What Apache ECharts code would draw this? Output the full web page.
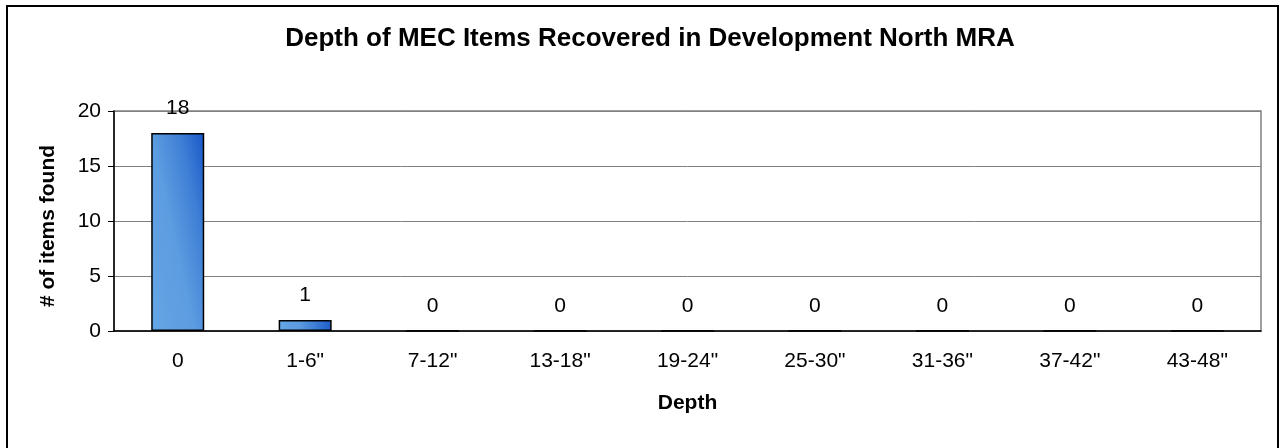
<!DOCTYPE html>
<html>
<head>
<meta charset="utf-8">
<style>
  html, body { margin: 0; padding: 0; background: #ffffff; }
  #chart { width: 1279px; height: 448px; }
</style>
<script src="https://cdn.jsdelivr.net/npm/echarts@6/dist/echarts.min.js"></script>
</head>
<body>
<div id="chart"></div>
<script>
const categories = ['0', '1-6"', '7-12"', '13-18"', '19-24"', '25-30"', '31-36"', '37-42"', '43-48"'];
const itemsFound = [18, 1, 0, 0, 0, 0, 0, 0, 0];
const chartTitle = 'Depth of MEC Items Recovered in Development North MRA';
const xAxisName = 'Depth';
const yAxisName = '# of items found';

const FONT = '"Liberation Sans", Arial, Helvetica, sans-serif';
const chart = echarts.init(document.getElementById('chart'), null, { renderer: 'canvas' });

// Fill: light on the left/bottom, darker toward the top-right corner of each bar.
function barFill(v) {
  if (v >= 5) {
    return new echarts.graphic.LinearGradient(0, 1, 1.734, 0.898, [
      { offset: 0, color: '#65a6e5' },
      { offset: 0.45, color: '#5c9ce0' },
      { offset: 0.75, color: '#3e7ed5' },
      { offset: 1, color: '#1757c8' }
    ]);
  }
  return new echarts.graphic.LinearGradient(0, 0, 1, 0, [
    { offset: 0, color: '#65a6e5' },
    { offset: 0.4, color: '#5a9adf' },
    { offset: 1, color: '#1d5dca' }
  ]);
}

chart.setOption({
  backgroundColor: '#ffffff',
  animation: false,
  title: {
    text: chartTitle,
    left: 645,
    textAlign: 'center',
    top: 21,
    textStyle: { fontFamily: FONT, fontSize: 26, fontWeight: 'bold', color: '#000000' }
  },
  graphic: [{
    type: 'rect',
    shape: { x: 7, y: 6, width: 1271, height: 460 },
    style: { fill: 'none', stroke: '#000000', lineWidth: 2 },
    silent: true,
    z: 100
  }],
  grid: {
    left: 114, top: 111, width: 1147, height: 220,
    show: true, borderColor: '#808080', borderWidth: 1.5, backgroundColor: '#ffffff'
  },
  xAxis: {
    type: 'category',
    data: categories,
    name: xAxisName,
    nameLocation: 'middle',
    nameGap: 62,
    nameTextStyle: { fontFamily: FONT, fontSize: 21, fontWeight: 'bold', color: '#000000' },
    axisLine: { lineStyle: { color: '#000000', width: 1.5 } },
    axisTick: { show: false },
    axisLabel: { fontFamily: FONT, fontSize: 21, color: '#000000', margin: 20 }
  },
  yAxis: {
    type: 'value',
    min: 0, max: 20, interval: 5,
    name: yAxisName,
    nameLocation: 'middle',
    nameGap: 55,
    nameRotate: 90,
    nameTextStyle: { fontFamily: FONT, fontSize: 21, fontWeight: 'bold', color: '#000000', padding: [0, 10, 0, 0] },
    axisLine: { show: true, lineStyle: { color: '#000000', width: 1.5 } },
    axisTick: { show: true, length: 6, lineStyle: { color: '#000000', width: 1 } },
    axisLabel: { fontFamily: FONT, fontSize: 21, color: '#000000', margin: 13 },
    splitLine: { show: true, lineStyle: { color: '#808080', width: 1 } }
  },
  series: [{
    type: 'bar',
    data: itemsFound.map(v => ({ value: v, itemStyle: { color: barFill(v) } })),
    barWidth: 53,
    itemStyle: {
      borderColor: '#000000',
      borderWidth: 1.5
    },
    label: {
      show: true,
      position: 'top',
      distance: 14,
      fontFamily: FONT,
      fontSize: 21,
      color: '#000000'
    }
  }]
});
</script>
</body>
</html>
